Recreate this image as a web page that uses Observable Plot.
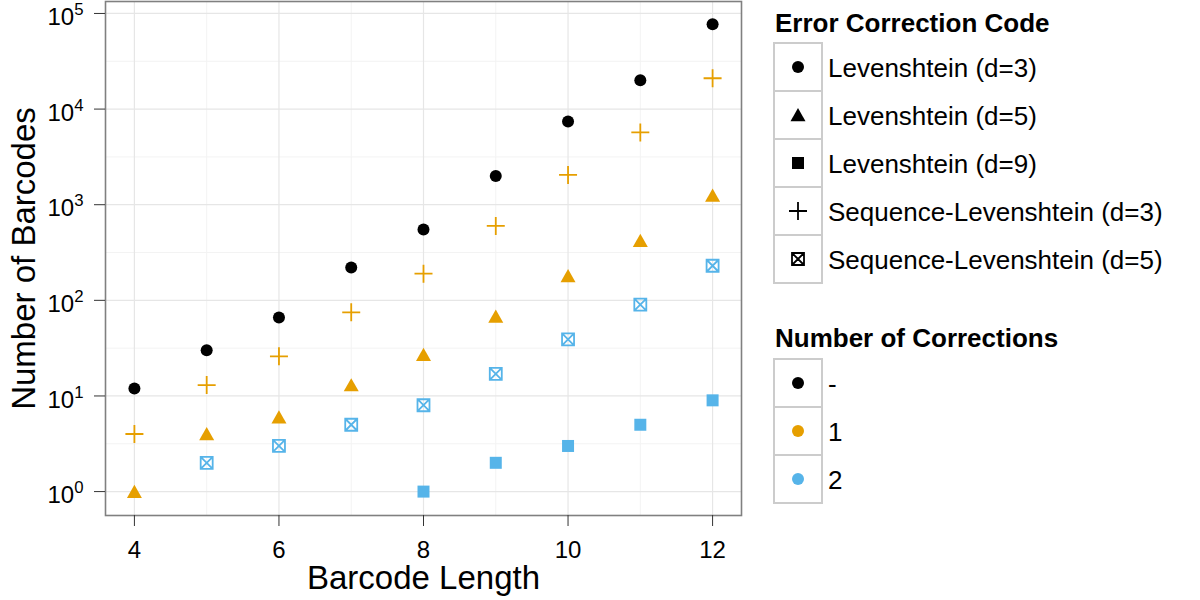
<!DOCTYPE html>
<html>
<head>
<meta charset="utf-8">
<script src="https://cdn.jsdelivr.net/npm/d3@7"></script>
<script src="https://cdn.jsdelivr.net/npm/@observablehq/plot@0.6"></script>
<style>
  html, body { margin: 0; padding: 0; background: #fff; }
  #wrap { position: relative; width: 1200px; height: 600px; font-family: "Liberation Sans", Arial, Helvetica, sans-serif; }
  #chart { position: absolute; left: 0; top: 0; }
</style>
</head>
<body>
<div id="wrap"><div id="chart"></div></div>
<script>
// ---------- data ----------
const codes = ["Levenshtein (d=3)", "Levenshtein (d=5)", "Levenshtein (d=9)", "Sequence-Levenshtein (d=3)", "Sequence-Levenshtein (d=5)"];
const corrections = ["-", "1", "2"];
const codeCorrection = ["-", "1", "2", "1", "2"];
const correctionColors = ["#000000", "#E69F00", "#56B4E9"];

const lev3Lengths = [4, 5, 6, 7, 8, 9, 10, 11, 12];
const lev3Counts  = [12, 30, 66, 220, 550, 2000, 7400, 20000, 77000];
const lev5Lengths = [4, 5, 6, 7, 8, 9, 10, 11, 12];
const lev5Counts  = [1, 4, 6, 13, 27, 68, 180, 420, 1250];
const lev9Lengths = [8, 9, 10, 11, 12];
const lev9Counts  = [1, 2, 3, 5, 9];
const seqLev3Lengths = [4, 5, 6, 7, 8, 9, 10, 11, 12];
const seqLev3Counts  = [4, 13, 26, 75, 190, 600, 2050, 5700, 21000];
const seqLev5Lengths = [5, 6, 7, 8, 9, 10, 11, 12];
const seqLev5Counts  = [2, 3, 5, 8, 17, 39, 90, 230];

const xTickValues = [4, 6, 8, 10, 12];
const xMinorValues = [5, 7, 9, 11];
const yExponents = [0, 1, 2, 3, 4, 5];
const yMinorExponents = [0.5, 1.5, 2.5, 3.5, 4.5];

// ---------- build rows ----------
const seriesLengths = [lev3Lengths, lev5Lengths, lev9Lengths, seqLev3Lengths, seqLev5Lengths];
const seriesCounts = [lev3Counts, lev5Counts, lev9Counts, seqLev3Counts, seqLev5Counts];
const rows = [];
codes.forEach((code, i) => {
  seriesLengths[i].forEach((len, j) => rows.push({length: len, count: seriesCounts[i][j], code, corr: codeCorrection[i]}));
});

// ---------- symbols ----------
const rad = size => Math.sqrt(size / Math.PI);
const symbols = {
  circle: {draw(c, s) { const r = rad(s); c.moveTo(r, 0); c.arc(0, 0, r, 0, 2 * Math.PI); c.closePath(); }},
  triangle: {draw(c, s) { const r = rad(s); c.moveTo(0, -1.15 * r); c.lineTo(1.25 * r, 1.05 * r); c.lineTo(-1.25 * r, 1.05 * r); c.closePath(); }},
  square: {draw(c, s) { const r = rad(s); c.rect(-r, -r, 2 * r, 2 * r); }},
  plus: {draw(c, s) { const r = rad(s) * 1.5; c.moveTo(-r, 0); c.lineTo(r, 0); c.moveTo(0, -r); c.lineTo(0, r); }},
  boxX: {draw(c, s) { const r = rad(s); c.rect(-r, -r, 2 * r, 2 * r); c.moveTo(-r, -r); c.lineTo(r, r); c.moveTo(r, -r); c.lineTo(-r, r); }}
};
const codeSymbol = ["circle", "triangle", "square", "plus", "boxX"];
const codeFilled = [true, true, true, false, false];

const dotMarks = codes.map((code, i) => Plot.dot(rows.filter(d => d.code === code), codeFilled[i]
  ? {x: "length", y: "count", symbol: symbols[codeSymbol[i]], r: 6, fill: "corr", stroke: "none"}
  : {x: "length", y: "count", symbol: symbols[codeSymbol[i]], r: 6, fill: "none", stroke: "corr", strokeWidth: 1.8}));

const chart = Plot.plot({
  width: 760,
  height: 600,
  marginLeft: 105,
  marginRight: 19,
  marginTop: 1,
  marginBottom: 85,
  style: {fontFamily: "'Liberation Sans', Arial, Helvetica, sans-serif", fontSize: "24px", color: "black", background: "white", overflow: "visible"},
  x: {domain: [3.6, 12.4]},
  y: {type: "log", domain: [Math.pow(10, -0.25), Math.pow(10, 5.125)]},
  color: {domain: corrections, range: correctionColors},
  marks: [
    Plot.ruleX(xMinorValues, {stroke: "#f3f3f3", strokeWidth: 1}),
    Plot.ruleY(yMinorExponents.map(e => Math.pow(10, e)), {stroke: "#f3f3f3", strokeWidth: 1}),
    Plot.ruleX(xTickValues, {stroke: "#e6e6e6", strokeWidth: 1.2}),
    Plot.ruleY(yExponents.map(e => Math.pow(10, e)), {stroke: "#e6e6e6", strokeWidth: 1.2}),
    Plot.frame({stroke: "#808080", strokeWidth: 1.6}),
    Plot.axisX(xTickValues, {tickSize: 11, tickPadding: 14, label: null, tickFormat: d => String(d), stroke: "#333", fontSize: 24}),
    Plot.axisY(yExponents.map(e => Math.pow(10, e)), {tickSize: 11, tickPadding: 11, label: null, tickFormat: d => "10^" + Math.round(Math.log10(d)), stroke: "#333", fontSize: 24}),
    ...dotMarks,
    Plot.text(["Barcode Length"], {frameAnchor: "bottom", lineAnchor: "middle", textAnchor: "middle", dy: 63, fontSize: 33, fill: "black"}),
    Plot.text(["Number of Barcodes"], {frameAnchor: "left", lineAnchor: "middle", textAnchor: "middle", dx: -81, rotate: -90, fontSize: 33, fill: "black"})
  ]
});
document.getElementById("chart").appendChild(chart);

// superscript exponents on y tick labels
d3.select(chart).selectAll('g[aria-label="y-axis tick label"] text').each(function () {
  const t = d3.select(this);
  const parts = t.text().split("^");
  if (parts.length !== 2) return;
  t.text(null);
  t.append("tspan").attr("dy", 4).text(parts[0]);
  t.append("tspan").attr("dy", -10).attr("font-size", "0.7em").text(parts[1]);
});
d3.select(chart).selectAll('g[aria-label="x-axis tick label"] text, g[aria-label="y-axis tick label"] text').attr("fill", "black");

// ---------- legends ----------
const ox = 760;
const leg = d3.select("#wrap").append("svg")
  .attr("width", 440).attr("height", 600)
  .style("position", "absolute").style("left", ox + "px").style("top", "0px")
  .style("font-family", "'Liberation Sans', Arial, Helvetica, sans-serif");

function symbolPath(name) { const p = d3.path(); symbols[name].draw(p, Math.PI * 36); return p.toString(); }

function drawLegend(title, titleBaseline, rowTop, labels, symNames, colors, filled) {
  leg.append("text").attr("x", 775 - ox).attr("y", titleBaseline)
    .attr("font-size", 26).attr("font-weight", "bold").attr("fill", "black").text(title);
  labels.forEach((lab, i) => {
    const y0 = rowTop + 48 * i;
    leg.append("rect").attr("x", 774 - ox).attr("y", y0).attr("width", 48).attr("height", 48)
      .attr("fill", "white").attr("stroke", "#cccccc").attr("stroke-width", 2);
    const g = leg.append("path").attr("d", symbolPath(symNames[i]))
      .attr("transform", `translate(${798 - ox},${y0 + 24})`);
    if (filled[i]) g.attr("fill", colors[i]).attr("stroke", "none");
    else g.attr("fill", "none").attr("stroke", colors[i]).attr("stroke-width", 1.8);
    leg.append("text").attr("x", 828 - ox).attr("y", y0 + 24 + 10)
      .attr("font-size", 26).attr("fill", "black").text(lab);
  });
}
drawLegend("Error Correction Code", 32, 43, codes, codeSymbol, codes.map(() => "black"), codeFilled);
drawLegend("Number of Corrections", 347, 359, corrections, corrections.map(() => "circle"), correctionColors, corrections.map(() => true));
</script>
</body>
</html>
